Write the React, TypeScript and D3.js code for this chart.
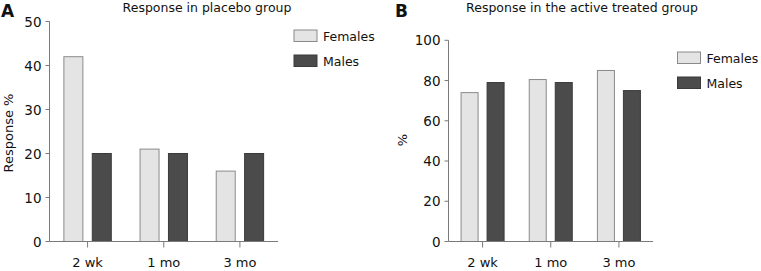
import React from "react";
import * as d3 from "d3";

const categories = ["2 wk", "1 mo", "3 mo"];
const seriesNames = ["Females", "Males"];
const placeboFemales = [42, 21, 16];
const placeboMales = [20, 20, 20];
const activeFemales = [74, 80.5, 85];
const activeMales = [79, 79, 75];
const placeboTicks = [0, 10, 20, 30, 40, 50];
const activeTicks = [0, 20, 40, 60, 80, 100];

const FONT = "DejaVu Sans, Verdana, sans-serif";
const LIGHT = "#e4e4e4";
const LIGHT_STROKE = "#8a8a8a";
const DARK = "#4b4b4b";
const DARK_STROKE = "#3a3a3a";
const AXIS = "#7a7a7a";

type PanelProps = {
  letter: string;
  title: string;
  titleX: number;
  yLabel: string;
  yLabelX: number;
  yLabelY: number;
  x0: number;
  x1: number;
  yTop: number;
  yBottom: number;
  yMax: number;
  ticks: number[];
  females: number[];
  males: number[];
  barW: number;
  barOffset: number;
  legendX: number;
  legendY: number;
  letterX: number;
};

function Panel(p: PanelProps) {
  const x = d3.scaleBand<string>().domain(categories).range([p.x0, p.x1]);
  const y = d3.scaleLinear().domain([0, p.yMax]).range([p.yBottom, p.yTop]);
  const series = [p.females, p.males];
  const fills = [LIGHT, DARK];
  const strokes = [LIGHT_STROKE, DARK_STROKE];
  return (
    <g>
      <text x={p.letterX} y={17} fontFamily={FONT} fontWeight="bold" fontSize={17} fill="#111">
        {p.letter}
      </text>
      <text x={p.titleX} y={12} textAnchor="middle" fontFamily={FONT} fontSize={12.5} fill="#111">
        {p.title}
      </text>
      <text
        transform={`translate(${p.yLabelX},${p.yLabelY}) rotate(-90)`}
        textAnchor="middle"
        dominantBaseline="central"
        fontFamily={FONT}
        fontSize={13}
        fill="#111"
      >
        {p.yLabel}
      </text>
      {categories.map((c, i) => {
        const cx = (x(c) as number) + x.bandwidth() / 2;
        return series.map((s, k) => {
          const bx = cx + (k === 0 ? -p.barOffset : p.barOffset) - p.barW / 2;
          return (
            <rect
              key={c + k}
              x={bx}
              y={y(s[i])}
              width={p.barW}
              height={p.yBottom - y(s[i])}
              fill={fills[k]}
              stroke={strokes[k]}
              strokeWidth={1}
            />
          );
        });
      })}
      <line x1={p.x0} x2={p.x0} y1={p.yTop} y2={p.yBottom} stroke={AXIS} strokeWidth={1} />
      <line x1={p.x0} x2={p.x1} y1={p.yBottom} y2={p.yBottom} stroke={AXIS} strokeWidth={1} />
      {p.ticks.map((t) => (
        <g key={t}>
          <line x1={p.x0 - 4} x2={p.x0} y1={y(t)} y2={y(t)} stroke={AXIS} />
          <text
            x={p.x0 - 8}
            y={y(t)}
            textAnchor="end"
            dominantBaseline="central"
            fontFamily={FONT}
            fontSize={13.5}
            fill="#111"
          >
            {t}
          </text>
        </g>
      ))}
      {categories.map((c) => {
        const cx = (x(c) as number) + x.bandwidth() / 2;
        return (
          <g key={c}>
            <line x1={cx} x2={cx} y1={p.yBottom} y2={p.yBottom + 6} stroke={AXIS} />
            <text x={cx} y={267} textAnchor="middle" fontFamily={FONT} fontSize={13} fill="#111">
              {c}
            </text>
          </g>
        );
      })}
      {seriesNames.map((n, k) => (
        <g key={n}>
          <rect
            x={p.legendX}
            y={p.legendY + k * 25}
            width={23}
            height={11.5}
            fill={fills[k]}
            stroke={strokes[k]}
          />
          <text
            x={p.legendX + 29}
            y={p.legendY + k * 25 + 6}
            dominantBaseline="central"
            fontFamily={FONT}
            fontSize={12.5}
            fill="#111"
          >
            {n}
          </text>
        </g>
      ))}
    </g>
  );
}

export default function App() {
  return (
    <svg
      width={761}
      height={271}
      style={{ position: "absolute", left: 0, top: 0, background: "#fff" }}
    >
      <rect width={761} height={271} fill="#fff" />
      <Panel
        letter="A"
        letterX={1}
        title="Response in placebo group"
        titleX={207}
        yLabel="Response %"
        yLabelX={8}
        yLabelY={133}
        x0={49.5}
        x1={278}
        yTop={21.5}
        yBottom={241.5}
        yMax={50}
        ticks={placeboTicks}
        females={placeboFemales}
        males={placeboMales}
        barW={19}
        barOffset={14.2}
        legendX={294}
        legendY={30}
        />
      <Panel
        letter="B"
        letterX={395}
        title="Response in the active treated group"
        titleX={582}
        yLabel="%"
        yLabelX={402}
        yLabelY={140}
        x0={448.5}
        x1={653}
        yTop={40.3}
        yBottom={241.5}
        yMax={100}
        ticks={activeTicks}
        females={activeFemales}
        males={activeMales}
        barW={17}
        barOffset={13}
        legendX={677.5}
        legendY={52}
      />
    </svg>
  );
}
